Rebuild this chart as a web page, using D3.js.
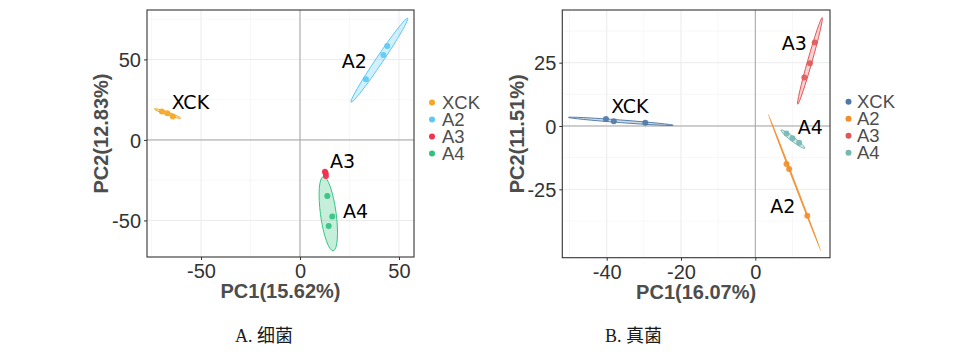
<!DOCTYPE html>
<html><head><meta charset="utf-8">
<script src="https://cdn.jsdelivr.net/npm/d3@7"></script>
<style>
html,body{margin:0;padding:0;background:#fff;}
svg{display:block;}
</style></head>
<body>
<svg id="chart" width="973" height="356"></svg>
<script>
// ---------- DATA ----------
const groups = ["XCK", "A2", "A3", "A4"];

// Panel A (bacteria)
const bacTitleX = "PC1(15.62%)";
const bacTitleY = "PC2(12.83%)";
const bacColors = ["#F5A623", "#5BC8F5", "#F0334F", "#2EC27E"];
const bacSampleGroup = ["XCK","XCK","XCK","A2","A2","A2","A3","A3","A3","A4","A4","A4"];
const bacPC1 = [-69.8, -67.0, -64.3, 33.3, 42.1, 44.1, 12.6, 13.0, 13.1, 13.8, 16.3, 14.5];
const bacPC2 = [17.6, 16.6, 14.5, 37.7, 52.8, 58.4, -19.7, -20.7, -22.4, -34.8, -47.6, -53.4];
const bacEllX1 = [-73.6, 25.8, 12.4, 11.8];
const bacEllY1 = [19.3, 23.4, -18.3, -22.8];
const bacEllX2 = [-60.3, 54.4, 13.4, 16.8];
const bacEllY2 = [13.5, 75.6, -23.6, -68.8];
const bacEllRatio = [0.1, 0.07, 0.45, 0.21];
const bacLabelX = [-64.8, 21.1, 15.2, 21.7];
const bacLabelY = [19.0, 44.5, -17.6, -48.6];
const bacDomainX = [-77.3, 57.6];
const bacDomainY = [-72.7, 80.7];
const bacTicksX = [-50, 0, 50];
const bacTicksY = [-50, 0, 50];
const bacMinorX = [-75, -25, 25];
const bacMinorY = [-25, 25, 75];

// Panel B (fungi)
const funTitleX = "PC1(16.07%)";
const funTitleY = "PC2(11.51%)";
const funColors = ["#4E79A7", "#F28E2B", "#E15759", "#76B7B2"];
const funSampleGroup = ["XCK","XCK","XCK","A2","A2","A2","A3","A3","A3","A4","A4","A4"];
const funPC1 = [-40.2, -38.1, -29.6, 8.4, 9.1, 14.0, 13.2, 14.7, 16.0, 8.4, 10.0, 11.8];
const funPC2 = [2.8, 1.9, 1.3, -15.0, -17.0, -35.4, 19.1, 24.8, 33.0, -3.0, -4.8, -6.6];
const funEllX1 = [-50.3, 3.5, 11.4, 6.9];
const funEllY1 = [3.4, 4.6, 8.6, -1.6];
const funEllX2 = [-22.1, 17.6, 18.0, 13.3];
const funEllY2 = [0.3, -49.2, 42.8, -8.8];
const funEllRatio = [0.025, 0.006, 0.05, 0.14];
const funLabelX = [-38.8, 4.0, 7.1, 11.4];
const funLabelY = [5.0, -34.5, 30.0, -3.2];
const funDomainX = [-51.95, 20.1];
const funDomainY = [-52.0, 45.8];
const funTicksX = [-40, -20, 0];
const funTicksY = [-25, 0, 25];
const funMinorX = [-50, -30, -10, 10];
const funMinorY = [-37.5, -12.5, 12.5, 37.5];

const captions = ["A. 细菌", "B. 真菌"];

// ---------- DRAW ----------
const svg = d3.select("#chart");

function panel(cfg) {
  const g = svg.append("g");
  const x = d3.scaleLinear().domain(cfg.domX).range([cfg.left, cfg.right]);
  const y = d3.scaleLinear().domain(cfg.domY).range([cfg.bottom, cfg.top]);

  g.append("rect").attr("x", cfg.left).attr("y", cfg.top)
    .attr("width", cfg.right - cfg.left).attr("height", cfg.bottom - cfg.top)
    .attr("fill", "#fff");

  // minor grid
  g.selectAll(null).data(cfg.minorX).enter().append("line")
    .attr("x1", d => x(d)).attr("x2", d => x(d)).attr("y1", cfg.top).attr("y2", cfg.bottom)
    .attr("stroke", "#f2f2f2").attr("stroke-width", 0.6);
  g.selectAll(null).data(cfg.minorY).enter().append("line")
    .attr("y1", d => y(d)).attr("y2", d => y(d)).attr("x1", cfg.left).attr("x2", cfg.right)
    .attr("stroke", "#f2f2f2").attr("stroke-width", 0.6);
  // major grid
  g.selectAll(null).data(cfg.ticksX).enter().append("line")
    .attr("x1", d => x(d)).attr("x2", d => x(d)).attr("y1", cfg.top).attr("y2", cfg.bottom)
    .attr("stroke", "#ebebeb").attr("stroke-width", 1);
  g.selectAll(null).data(cfg.ticksY).enter().append("line")
    .attr("y1", d => y(d)).attr("y2", d => y(d)).attr("x1", cfg.left).attr("x2", cfg.right)
    .attr("stroke", "#ebebeb").attr("stroke-width", 1);

  // zero lines
  g.append("line").attr("x1", x(0)).attr("x2", x(0)).attr("y1", cfg.top).attr("y2", cfg.bottom)
    .attr("stroke", "#a6a6a6").attr("stroke-width", 1);
  g.append("line").attr("y1", y(0)).attr("y2", y(0)).attr("x1", cfg.left).attr("x2", cfg.right)
    .attr("stroke", "#a6a6a6").attr("stroke-width", 1);

  // ellipses
  cfg.groups.forEach((grp, i) => {
    const px1 = x(cfg.ex1[i]), py1 = y(cfg.ey1[i]);
    const px2 = x(cfg.ex2[i]), py2 = y(cfg.ey2[i]);
    const cx = (px1 + px2) / 2, cy = (py1 + py2) / 2;
    const L = Math.hypot(px2 - px1, py2 - py1);
    const ang = Math.atan2(py2 - py1, px2 - px1) * 180 / Math.PI;
    const rx = L / 2, ry = Math.max(0.5, rx * cfg.eratio[i]);
    g.append("ellipse")
      .attr("cx", 0).attr("cy", 0).attr("rx", rx).attr("ry", ry)
      .attr("transform", `translate(${cx},${cy}) rotate(${ang})`)
      .attr("fill", cfg.colors[i]).attr("fill-opacity", 0.28)
      .attr("stroke", cfg.colors[i]).attr("stroke-width", 0.9);
  });

  // points
  g.selectAll(null).data(cfg.pc1.map((v, i) => i)).enter().append("circle")
    .attr("cx", i => x(cfg.pc1[i])).attr("cy", i => y(cfg.pc2[i])).attr("r", 3)
    .attr("fill", i => cfg.colors[cfg.groups.indexOf(cfg.sg[i])]).attr("fill-opacity", 0.9);

  // group labels
  cfg.groups.forEach((grp, i) => {
    g.append("text").attr("x", x(cfg.lx[i])).attr("y", y(cfg.ly[i]))
      .attr("font-family", "DejaVu Sans, sans-serif").attr("font-size", 19)
      .attr("fill", "#000").text(grp);
  });

  // border
  g.append("rect").attr("x", cfg.left).attr("y", cfg.top)
    .attr("width", cfg.right - cfg.left).attr("height", cfg.bottom - cfg.top)
    .attr("fill", "none").attr("stroke", "#333").attr("stroke-width", 1.1);

  // axes
  const ax = d3.axisBottom(x).tickValues(cfg.ticksX).tickSize(3).tickPadding(3);
  const ay = d3.axisLeft(y).tickValues(cfg.ticksY).tickSize(3).tickPadding(3);
  const gx = g.append("g").attr("transform", `translate(0,${cfg.bottom})`).call(ax);
  const gy = g.append("g").attr("transform", `translate(${cfg.left},0)`).call(ay);
  [gx, gy].forEach(a => {
    a.select(".domain").remove();
    a.selectAll("line").attr("stroke", "#333");
    a.selectAll("text").attr("font-family", "Liberation Sans, Arial, sans-serif")
      .attr("font-size", 20).attr("fill", "#333")
      .text(d => d < 0 ? "-" + Math.abs(d) : String(d));
  });
  gx.selectAll("text").attr("dy", "0.76em");
  gy.selectAll("text").attr("dy", "0.36em");

  // axis titles
  g.append("text").attr("x", (cfg.left + cfg.right) / 2).attr("y", cfg.bottom + 41)
    .attr("text-anchor", "middle").attr("font-family", "Liberation Sans, Arial, sans-serif")
    .attr("font-weight", "bold").attr("font-size", 20).attr("fill", "#4d4d4d").text(cfg.titleX);
  g.append("text").attr("transform", `translate(${cfg.ytitleX},${(cfg.top + cfg.bottom) / 2}) rotate(-90)`)
    .attr("text-anchor", "middle").attr("font-family", "Liberation Sans, Arial, sans-serif")
    .attr("font-weight", "bold").attr("font-size", 20).attr("fill", "#4d4d4d").text(cfg.titleY);

  // legend
  cfg.groups.forEach((grp, i) => {
    const ly = cfg.legTop + i * 17;
    g.append("circle").attr("cx", cfg.legX).attr("cy", ly).attr("r", 3).attr("fill", cfg.colors[i]);
    g.append("text").attr("x", cfg.legX + cfg.legGap).attr("y", ly).attr("dy", "0.36em")
      .attr("font-family", "Liberation Sans, Arial, sans-serif").attr("font-size", 18.5)
      .attr("fill", "#4d4d4d").text(grp);
  });

  // caption
  g.append("text").attr("x", cfg.capX).attr("y", 342)
    .attr("font-family", "Liberation Serif, 'Noto Sans CJK SC', serif").attr("font-size", 18)
    .attr("fill", "#1a1a1a").text(cfg.caption);
}

panel({
  left: 147, right: 414, top: 10, bottom: 257,
  domX: bacDomainX, domY: bacDomainY,
  ticksX: bacTicksX, ticksY: bacTicksY, minorX: bacMinorX, minorY: bacMinorY,
  groups: groups, colors: bacColors, sg: bacSampleGroup, pc1: bacPC1, pc2: bacPC2,
  ex1: bacEllX1, ey1: bacEllY1, ex2: bacEllX2, ey2: bacEllY2, eratio: bacEllRatio,
  lx: bacLabelX, ly: bacLabelY, titleX: bacTitleX, titleY: bacTitleY, ytitleX: 108,
  legX: 432, legGap: 10, legTop: 102.5, capX: 235, caption: captions[0]
});
panel({
  left: 562.3, right: 830, top: 10, bottom: 257.7,
  domX: funDomainX, domY: funDomainY,
  ticksX: funTicksX, ticksY: funTicksY, minorX: funMinorX, minorY: funMinorY,
  groups: groups, colors: funColors, sg: funSampleGroup, pc1: funPC1, pc2: funPC2,
  ex1: funEllX1, ey1: funEllY1, ex2: funEllX2, ey2: funEllY2, eratio: funEllRatio,
  lx: funLabelX, ly: funLabelY, titleX: funTitleX, titleY: funTitleY, ytitleX: 524,
  legX: 848.5, legGap: 8.5, legTop: 101.7, capX: 605, caption: captions[1]
});
</script>
</body></html>
